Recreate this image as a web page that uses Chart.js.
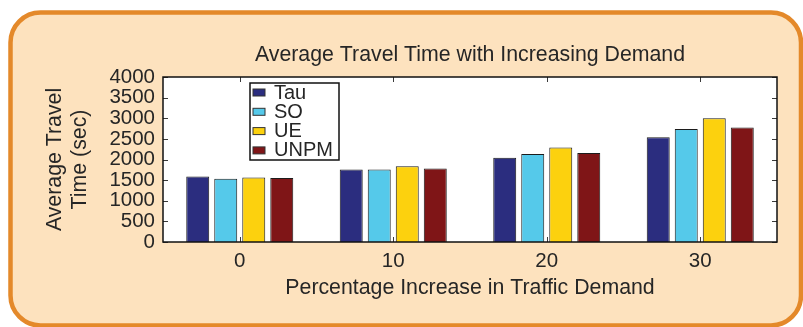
<!DOCTYPE html>
<html>
<head>
<meta charset="utf-8">
<script src="https://cdn.jsdelivr.net/npm/chart.js@4.4.0/dist/chart.umd.min.js"></script>
<style>
  html, body { margin: 0; padding: 0; background: #fff; }
  canvas { display: block; }
</style>
</head>
<body>
<canvas id="chart" width="803" height="327"></canvas>
<script>
// Demand increase levels (%) on the x axis
const categories = ['0', '10', '20', '30'];
// Average travel time (sec) per routing scheme
const tauValues  = [1590, 1760, 2045, 2540];
const soValues   = [1535, 1755, 2135, 2740];
const ueValues   = [1565, 1835, 2290, 3000];
const unpmValues = [1550, 1780, 2160, 2775];
const seriesNames = ['Tau', 'SO', 'UE', 'UNPM'];
const yTickValues = [0, 500, 1000, 1500, 2000, 2500, 3000, 3500, 4000];

const seriesColors = ['#2B2D7F', '#55C9EA', '#FCD10E', '#7F1517'];
const textColor = '#262626';
const fontFamily = '"Liberation Sans", Arial, Helvetica, sans-serif';
const titleFont = { family: fontFamily, size: 21.3, weight: 'normal', lineHeight: '24px' };
const tickFont = { family: fontFamily, size: 20.5, weight: 'normal', lineHeight: '24px' };

const seriesValues = [tauValues, soValues, ueValues, unpmValues];

// Panel background, white plot box, inward ticks and the in-plot legend
const framePlugin = {
  id: 'frame',
  beforeDraw(chart) {
    const { ctx, chartArea: a } = chart;
    ctx.save();
    ctx.fillStyle = '#ffffff';
    ctx.fillRect(0, 0, chart.width, chart.height);
    ctx.beginPath();
    ctx.roundRect(10.5, 12.5, 790.5, 313, 30);
    ctx.fillStyle = '#FDE2BE';
    ctx.fill();
    ctx.lineWidth = 4.5;
    ctx.strokeStyle = '#E4892A';
    ctx.stroke();
    ctx.fillStyle = '#ffffff';
    ctx.fillRect(a.left, a.top, a.right - a.left, a.bottom - a.top);
    ctx.restore();
  },
  afterDatasetsDraw(chart) {
    const { ctx, chartArea: a, scales } = chart;
    const tickLen = 5;
    ctx.save();
    ctx.strokeStyle = '#3a3a3a';
    ctx.lineWidth = 1;
    ctx.beginPath();
    categories.forEach((c, i) => {
      const x = Math.round(scales.x.getPixelForValue(i)) + 0.5;
      ctx.moveTo(x, a.top); ctx.lineTo(x, a.top + tickLen);
      ctx.moveTo(x, a.bottom); ctx.lineTo(x, a.bottom - tickLen);
    });
    yTickValues.forEach(v => {
      const y = Math.round(scales.y.getPixelForValue(v)) + 0.5;
      ctx.moveTo(a.left, y); ctx.lineTo(a.left + tickLen, y);
      ctx.moveTo(a.right, y); ctx.lineTo(a.right - tickLen, y);
    });
    ctx.stroke();

    // plot box
    ctx.strokeStyle = '#111111';
    ctx.lineWidth = 1.5;
    ctx.strokeRect(a.left, a.top, a.right - a.left, a.bottom - a.top);

    // legend
    const lx = 250, ly = 83, lw = 89, lh = 77;
    ctx.fillStyle = '#ffffff';
    ctx.fillRect(lx, ly, lw, lh);
    ctx.strokeStyle = '#111111';
    ctx.lineWidth = 1.5;
    ctx.strokeRect(lx, ly, lw, lh);
    ctx.font = '20px ' + fontFamily;
    ctx.textBaseline = 'middle';
    ctx.textAlign = 'left';
    chart.data.datasets.forEach((ds, i) => {
      const cy = ly + 9.5 + i * 19.3;
      ctx.fillStyle = ds.backgroundColor;
      ctx.fillRect(253, cy - 3.5, 12, 7);
      ctx.strokeStyle = '#333333';
      ctx.lineWidth = 1;
      ctx.strokeRect(253, cy - 3.5, 12, 7);
      ctx.fillStyle = textColor;
      ctx.fillText(ds.label, 274, cy + 0.5);
    });
    ctx.restore();
  }
};

new Chart(document.getElementById('chart'), {
  type: 'bar',
  data: {
    labels: categories,
    datasets: seriesNames.map((name, i) => ({
      label: name,
      data: seriesValues[i],
      backgroundColor: seriesColors[i],
      borderColor: '#1c1c1c',
      borderWidth: 1,
      barPercentage: 0.82,
      categoryPercentage: 0.73
    }))
  },
  options: {
    responsive: false,
    animation: false,
    devicePixelRatio: 1,
    layout: { padding: { left: 0, right: 26, top: 0, bottom: 0 } },
    plugins: {
      legend: { display: false },
      tooltip: { enabled: false },
      title: {
        display: true,
        fullSize: false,
        text: 'Average Travel Time with Increasing Demand',
        color: textColor,
        font: titleFont,
        padding: { top: 43, bottom: 10 }
      }
    },
    scales: {
      x: {
        grid: { display: false, drawTicks: false },
        border: { display: false },
        ticks: { padding: 7, color: textColor, font: tickFont },
        title: {
          display: true,
          text: 'Percentage Increase in Traffic Demand',
          color: textColor,
          font: titleFont,
          padding: { top: 0, bottom: 27 }
        },
        afterFit(scale) { scale.height = 85; }
      },
      y: {
        min: 0,
        max: 4000,
        grid: { display: false, drawTicks: false },
        border: { display: false },
        afterBuildTicks(scale) { scale.ticks = yTickValues.map(v => ({ value: v })); },
        ticks: {
          padding: 8,
          color: textColor,
          font: { family: fontFamily, size: 20.5, weight: 'normal', lineHeight: '18px' },
          autoSkip: false,
          callback: v => String(v)
        },
        title: {
          display: true,
          text: ['Average Travel', 'Time (sec)'],
          color: textColor,
          font: { family: fontFamily, size: 21.3, weight: 'normal', lineHeight: '25px' },
          padding: { top: 42.5, bottom: 0 }
        },
        afterFit(scale) { scale.width = 163; }
      }
    }
  },
  plugins: [framePlugin]
});
</script>
</body>
</html>
